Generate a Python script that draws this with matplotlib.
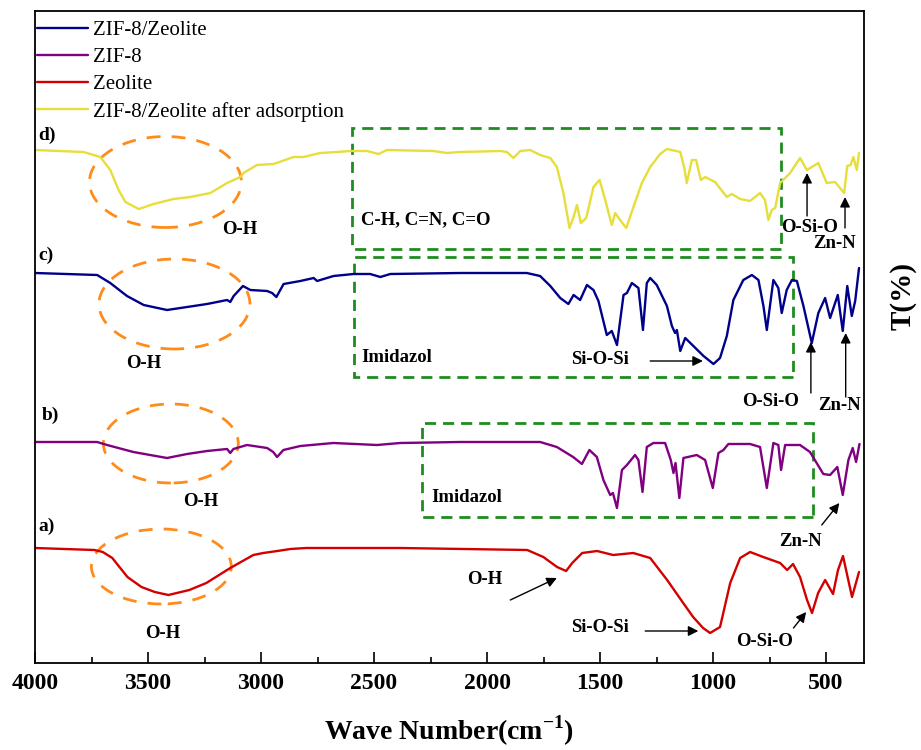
import numpy as np
import matplotlib
matplotlib.use('Agg')
import matplotlib.pyplot as plt
from matplotlib.patches import Ellipse, Rectangle

plt.rcParams['font.family'] = ['Liberation Serif', 'DejaVu Serif']
plt.rcParams['mathtext.fontset'] = 'custom'
plt.rcParams['mathtext.rm'] = 'Liberation Serif'
plt.rcParams['mathtext.bf'] = 'Liberation Serif:bold'

# FTIR spectra (relative transmittance, baseline ~100)
wn_zeolite = [4000, 3737, 3700, 3658, 3591, 3529, 3470, 3410, 3317, 3242, 3136, 3034, 2990,
              2928, 2870, 2800, 2384,
              1822, 1751, 1690, 1650, 1623, 1579, 1513, 1442, 1353, 1278, 1203, 1132, 1088,
              1044, 1013, 969, 924, 880, 836, 778, 703, 672, 646, 615, 584, 562, 535, 504,
              469, 447, 425, 385, 354]
t_zeolite = [100, 98, 96, 90, 71, 61, 56, 53, 58, 65, 80, 93, 95,
             97, 99, 100, 100,
             98, 91, 81, 77, 85, 95, 97, 93, 95, 90, 68, 45, 31,
             20, 15, 21, 65, 90, 96, 91, 85, 78, 84, 71, 48, 35, 55, 68,
             54, 78, 92, 51, 76]

wn_zif8 = [4000, 3725, 3681, 3565, 3416, 3327, 3239, 3150, 3136, 3122, 3062, 2973, 2946,
           2929, 2901, 2826, 2680, 2487, 2384, 2118, 1765, 1691, 1619, 1580, 1547, 1514,
           1485, 1455, 1443, 1425, 1403, 1381, 1345, 1330, 1312, 1293, 1264, 1212, 1187,
           1175, 1166, 1149, 1131, 1072, 1035, 1001, 976, 954, 932, 836, 792, 762, 733,
           711, 699, 681, 615, 571, 512, 482, 450, 426, 401, 382, 367, 352]
t_zif8 = [100, 100, 97, 90, 84, 88, 91, 93, 89, 93, 97, 94, 90,
          85, 92, 96, 99, 97, 99, 100, 100, 95, 85, 78, 92, 85,
          62, 47, 49, 34, 72, 77, 87, 82, 50, 95, 99, 99, 82,
          69, 79, 44, 84, 87, 82, 54, 89, 92, 98, 98, 95, 54, 99,
          97, 72, 97, 97, 90, 68, 67, 75, 47, 82, 94, 80, 98]

wn_zif8_zeo = [4000, 3725, 3667, 3593, 3519, 3416, 3327, 3239, 3150, 3136, 3121, 3080, 3047,
               2973, 2951, 2932, 2900, 2826, 2767, 2752, 2679, 2590, 2517, 2472, 2428, 2118,
               1824, 1765, 1720, 1676, 1640, 1617, 1588, 1558, 1529, 1507, 1470, 1448, 1425,
               1396, 1381, 1359, 1330, 1310, 1293, 1278, 1249, 1204, 1182, 1168, 1160, 1145,
               1123, 1087, 1042, 998, 969, 939, 910, 866, 828, 799, 777, 762, 733, 711, 696,
               674, 651, 629, 600, 563, 534, 504, 482, 448, 426, 406, 386, 371, 354]
t_zif8_zeo = [100, 98, 90, 77, 68, 63, 66, 69, 73, 71, 77, 87, 83,
              82, 80, 76, 89, 92, 95, 92, 97, 99, 99, 96, 99, 100,
              100, 97, 87, 75, 69, 78, 73, 88, 83, 72, 38, 42, 28,
              78, 80, 90, 85, 43, 90, 95, 88, 67, 47, 40, 43, 22,
              35, 27, 17, 9, 15, 37, 73, 93, 98, 93, 67, 43, 93, 85, 60,
              83, 93, 92, 67, 30, 60, 75, 55, 78, 42, 87, 57, 72, 105]

wn_after = [4000, 3785, 3711, 3667, 3630, 3600, 3541, 3475, 3387, 3313, 3224, 3150, 3092,
            3077, 3018, 2944, 2856, 2812, 2738, 2664, 2605, 2531, 2480, 2443, 2237, 2177,
            2118, 1942, 1912, 1883, 1853, 1809, 1765, 1720, 1691, 1662, 1635, 1617, 1602,
            1585, 1561, 1529, 1502, 1477, 1448, 1433, 1411, 1384, 1352, 1315, 1278, 1234,
            1204, 1145, 1128, 1116, 1094, 1075, 1054, 1035, 991, 939, 917, 880, 836, 792,
            770, 755, 740, 725, 703, 659, 615, 585, 534, 497, 460, 420, 406, 391, 379, 364, 354]
t_after = [100, 98, 93, 80, 60, 48, 41, 46, 51, 53, 57, 67, 73,
           77, 85, 86, 93, 93, 97, 98, 99, 99, 96, 100, 99, 97,
           98, 99, 98, 92, 99, 100, 95, 92, 83, 57, 22, 33, 45,
           27, 32, 63, 70, 50, 25, 37, 30, 22, 43, 67, 83, 96,
           101, 98, 83, 67, 90, 90, 70, 73, 68, 53, 56, 51, 49, 57,
           50, 30, 40, 42, 67, 77, 92, 80, 87, 67, 68, 57, 84, 85, 93, 80, 97]

series = [
    ('ZIF-8/Zeolite', wn_zif8_zeo, t_zif8_zeo, '#00008B', 290),
    ('ZIF-8', wn_zif8, t_zif8, '#800080', 121),
    ('Zeolite', wn_zeolite, t_zeolite, '#D40000', 15),
    ('ZIF-8/Zeolite after adsorption', wn_after, t_after, '#E6DE3A', 413),
]

fig = plt.figure(figsize=(9.21, 7.5), dpi=100)
ax = fig.add_axes([35 / 921, 87 / 750, 829 / 921, 652 / 750])

for name, wn, t, col, off in series:
    ax.plot(wn, np.array(t) + off, color=col, lw=1.7, label=name,
            solid_joinstyle='round', solid_capstyle='round')

ax.set_xlim(4000, 332)
ax.set_ylim(0, 652)
ax.set_yticks([])
ax.set_xticks([4000, 3500, 3000, 2500, 2000, 1500, 1000, 500])
ax.set_xticks(np.arange(3750, 300, -500), minor=True)
ax.tick_params(axis='x', which='major', direction='in', length=8, width=1.2,
               labelsize=17, pad=7)
ax.tick_params(axis='x', which='minor', direction='in', length=4, width=1.2)
for lbl in ax.get_xticklabels():
    lbl.set_fontweight('bold')
for sp in ax.spines.values():
    sp.set_linewidth(1.3)

ax.set_xlabel(r'Wave Number(cm$^{\mathbf{-1}}$)', fontsize=20, fontweight='bold', labelpad=14)
fig.text(903 / 921, 1 - 296 / 750, 'T(%)', rotation=90, fontsize=21, fontweight='bold',
         ha='center', va='center')

leg = ax.legend(loc='upper left', bbox_to_anchor=(-0.005, 0.995), frameon=False, fontsize=15,
                handlelength=2.45, handletextpad=0.25, labelspacing=0.36,
                borderaxespad=0.0, borderpad=0.3)

# panel letters
for s, x, y in [('d)', 3985, 528), ('c)', 3985, 408), ('b)', 3969, 248), ('a)', 3985, 137)]:
    ax.text(x, y, s, fontsize=14, fontweight='bold', ha='left', va='center')

# orange dashed ellipses around the O-H bands
for cx, cy, w, h in [(3423, 481, 672, 91), (3383, 359, 668, 90),
                     (3399, 219.5, 597, 79), (3441, 96.5, 619, 75)]:
    ax.add_patch(Ellipse((cx, cy), w, h, fill=False, edgecolor='#FF8C1A', lw=2,
                         linestyle=(0, (5, 4))))

# green dashed boxes
for x0, x1, y0, y1 in [(700, 2596, 414, 535), (647, 2587, 286, 406), (559, 2288, 146, 240)]:
    ax.add_patch(Rectangle((x0, y0), x1 - x0, y1 - y0, fill=False, edgecolor='#1E8C1E',
                           lw=2, linestyle=(0, (4, 2.5))))

def label(x, y, s, ha='center'):
    ax.text(x, y, s, fontsize=13.5, fontweight='bold', ha=ha, va='center')

def arrow(tail, tip):
    ax.annotate('', xy=tip, xytext=tail,
                arrowprops=dict(arrowstyle='-|>', color='black', lw=1,
                                mutation_scale=15, shrinkA=0, shrinkB=0))

# d) ZIF-8/Zeolite after adsorption
label(3092, 433, 'O-H')
label(2556, 443, 'C-H, C=N, C=O', ha='left')
label(575, 435, 'O-Si-O')
arrow((584, 447), (584, 490))
label(464, 419, 'Zn-N')
arrow((416, 435), (416, 466))

# c) ZIF-8/Zeolite
label(3521, 300, 'O-H')
label(2556, 306, 'Imidazol', ha='left')
label(1499, 303, 'Si-O-Si')
arrow((1278, 302), (1045, 302))
label(747, 262, 'O-Si-O')
arrow((567, 270), (567, 321))
label(442, 258, 'Zn-N')
arrow((413, 266), (413, 330))

# b) ZIF-8
label(3268, 161, 'O-H')
label(2248, 165, 'Imidazol', ha='left')
label(615, 121, 'Zn-N')
arrow((519, 138), (441, 160))

# a) Zeolite
label(3436, 30, 'O-H')
label(2008, 83, 'O-H')
arrow((1897, 63), (1691, 85))
label(1499, 36, 'Si-O-Si')
arrow((1300, 32), (1065, 32))
label(774, 21, 'O-Si-O')
arrow((644, 35), (588, 51))

fig.savefig('out.png', dpi=100)
